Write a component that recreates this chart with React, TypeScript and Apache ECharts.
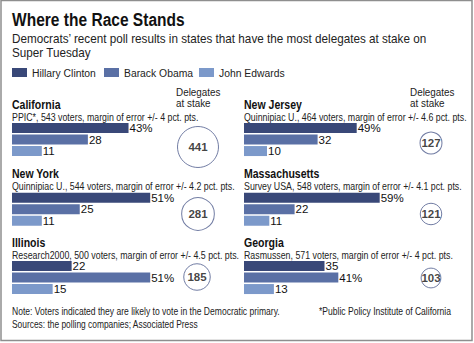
import React, { useEffect, useRef } from "react";
import * as echarts from "echarts";

const candidates = ["Hillary Clinton", "Barack Obama", "John Edwards"];
const candidateColors = ["#394878", "#5a70a5", "#7c99ca"];
const states = ["California", "New Jersey", "New York", "Massachusetts", "Illinois", "Georgia"];
const pollNotes = [
  "PPIC*, 543 voters, margin of error +/- 4 pct. pts.",
  "Quinnipiac U., 464 voters, margin of error +/- 4.6 pct. pts.",
  "Quinnipiac U., 544 voters, margin of error +/- 4.2 pct. pts.",
  "Survey USA, 548 voters, margin of error +/- 4.1 pct. pts.",
  "Research2000, 500 voters, margin of error +/- 4.5 pct. pts.",
  "Rasmussen, 571 voters, margin of error +/- 4 pct. pts.",
];
const clinton = [43, 49, 51, 59, 22, 35];
const obama = [28, 32, 25, 22, 51, 41];
const edwards = [11, 10, 11, 11, 15, 13];
const delegates = [441, 127, 281, 121, 185, 103];

const FONT = "'Liberation Sans', Arial, sans-serif";

// layout (not data)
const colLeft = [12, 244];
const rowBarTop = [122.3, 192, 260.3];
const circleCenters = [
  [198, 147],
  [431, 143],
  [198, 214],
  [431, 214],
  [197, 277],
  [431, 278],
];
const PX_PER_UNIT = 2.71;

function txt(text: string, x: number, y: number, size: number, sx: number, bold = false, fill = "#222") {
  return {
    type: "text",
    x,
    y,
    scaleX: sx,
    style: {
      text,
      x: 0,
      y: 0,
      fontSize: size,
      fontWeight: bold ? "bold" : "normal",
      fontFamily: FONT,
      fill,
      verticalAlign: "middle",
      align: "left",
    },
  };
}

export default function App() {
  const ref = useRef<HTMLDivElement>(null);
  useEffect(() => {
    if (!ref.current) return;
    const chart = echarts.init(ref.current, null, { renderer: "svg" });
    const grids: any[] = [];
    const xAxes: any[] = [];
    const yAxes: any[] = [];
    const series: any[] = [];
    const graphics: any[] = [];

    graphics.push({
      type: "rect",
      shape: { x: 1, y: 0.5, width: 471, height: 340 },
      style: { fill: "#fff", stroke: "#8e8e8e", lineWidth: 1.5 },
      z: -10,
    });
    graphics.push(txt("Where the Race Stands", 12, 20, 18.5, 0.84, true, "#111"));
    graphics.push(txt("Democrats\u2019 recent poll results in states that have the most delegates at stake on", 12, 39, 13, 0.9));
    graphics.push(txt("Super Tuesday", 12, 53, 13, 0.9));
    const legendX = [12, 104, 199];
    candidates.forEach((c, k) => {
      graphics.push({ type: "rect", shape: { x: legendX[k], y: 68, width: 15, height: 9 }, style: { fill: candidateColors[k] } });
      graphics.push(txt(c, legendX[k] + 20, 73, 11.5, 0.9));
    });
    [176, 410].forEach((x) => {
      graphics.push(txt("Delegates", x, 91.5, 11.5, 0.86));
      graphics.push(txt("at stake", x, 103, 11.5, 0.86));
    });

    states.forEach((st, i) => {
      const col = i % 2;
      const row = Math.floor(i / 2);
      const left = colLeft[col];
      const top = rowBarTop[row];
      graphics.push(txt(st, left, top - 18, 13, 0.81, true, "#111"));
      graphics.push(txt(pollNotes[i], left, top - 5.5, 10.5, 0.84));
      const vals = [clinton[i], obama[i], edwards[i]];
      const maxV = Math.max(...vals);
      const gi = grids.length;
      grids.push({ left, top, width: PX_PER_UNIT * 100, height: 34.5 });
      xAxes.push({ type: "value", gridIndex: gi, min: 0, max: 100, show: false });
      yAxes.push({ type: "category", gridIndex: gi, data: candidates, inverse: true, show: false });
      series.push({
        type: "bar",
        xAxisIndex: gi,
        yAxisIndex: gi,
        barWidth: 10,
        data: vals.map((v, k) => ({ value: v, itemStyle: { color: candidateColors[k] } })),
        label: {
          show: true,
          position: "right",
          distance: 1,
          fontSize: 11.5,
          fontFamily: FONT,
          color: "#111",
          formatter: (p: any) => (p.value === maxV ? p.value + "%" : String(p.value)),
        },
      });
      const ci = grids.length;
      const [cx, cy] = circleCenters[i];
      grids.push({ left: cx - 10, top: cy - 10, width: 20, height: 20 });
      xAxes.push({ type: "value", gridIndex: ci, min: 0, max: 1, show: false });
      yAxes.push({ type: "value", gridIndex: ci, min: 0, max: 1, show: false });
      series.push({
        type: "scatter",
        xAxisIndex: ci,
        yAxisIndex: ci,
        data: [[0.5, 0.5, delegates[i]]],
        symbol: "circle",
        symbolSize: (v: number[]) => 1.95 * Math.sqrt(v[2]),
        itemStyle: { color: "#fff", borderColor: "#4d5b8c", borderWidth: 1 },
        label: {
          show: true,
          position: "inside",
          formatter: (p: any) => String(p.value[2]),
          fontSize: 11.5,
          fontWeight: "bold",
          fontFamily: FONT,
          color: "#111",
        },
      });
    });

    graphics.push(txt("Note: Voters indicated they are likely to vote in the Democratic primary.", 12, 311, 10.5, 0.815));
    graphics.push(txt("*Public Policy Institute of California", 319, 311, 10.5, 0.815));
    graphics.push(txt("Sources: the polling companies; Associated Press", 12, 324, 10.5, 0.8));

    chart.setOption({
      animation: false,
      backgroundColor: "#fff",
      grid: grids,
      xAxis: xAxes,
      yAxis: yAxes,
      series,
      graphic: { elements: graphics },
    });
    return () => chart.dispose();
  }, []);
  return (
    <div style={{ position: "absolute", left: 0, top: 0, width: 474, height: 343 }}>
      <div ref={ref} style={{ width: 474, height: 343 }} />
    </div>
  );
}
